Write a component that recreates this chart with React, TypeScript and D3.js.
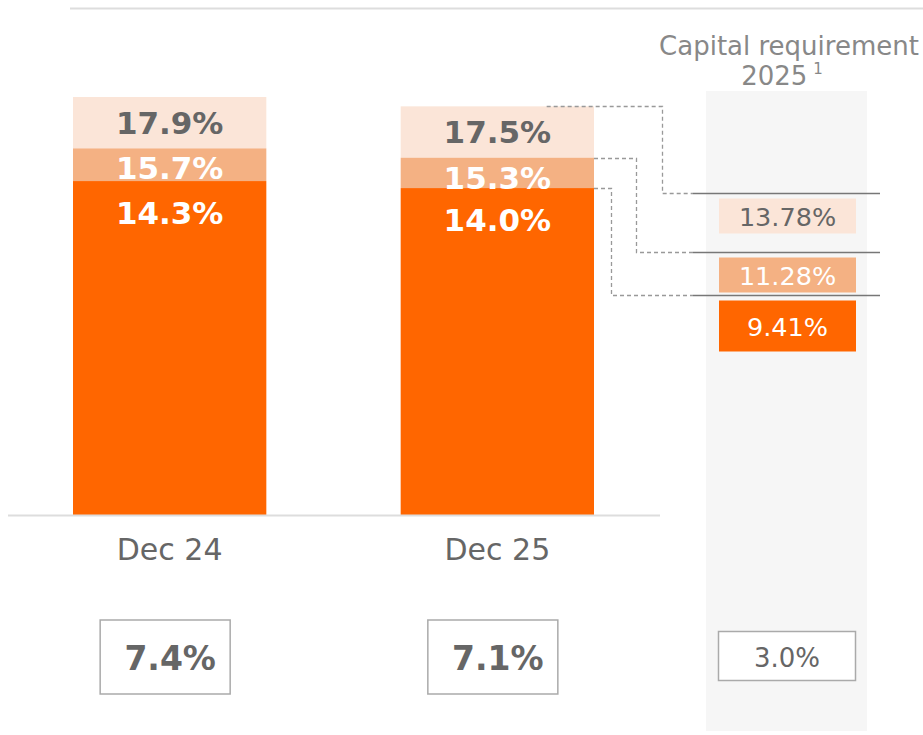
import * as d3 from 'd3';

const categories = ['Dec 24', 'Dec 25'];
const cet1 = [14.3, 14.0];
const tier1 = [15.7, 15.3];
const totalCapital = [17.9, 17.5];
const leverage = [7.4, 7.1];
const requirements = [13.78, 11.28, 9.41];
const leverageRequirement = 3.0;

const ORANGE = '#ff6600';
const MID = '#f4b183';
const LIGHT = '#fbe5d8';
const GREY = '#666666';
const FONT = '"DejaVu Sans", Verdana, sans-serif';

export default function App() {
  const width = 923;
  const height = 735;
  const base = 515;

  const x = d3.scaleBand<string>()
    .domain(categories)
    .range([73, 594])
    .paddingInner(0.41)
    .paddingOuter(0);

  const y = d3.scaleLinear().domain([0, 17.9]).range([base, 97]);

  const fmt1 = (v: number) => `${v.toFixed(1)}%`;
  const fmt2 = (v: number) => `${v.toFixed(2)}%`;

  const bw = x.bandwidth();

  // requirement panel
  const reqFills = [LIGHT, MID, ORANGE];
  const reqText = [GREY, '#ffffff', '#ffffff'];
  const reqBoxH = [35, 35, 51];
  const elbowX = [662, 636, 611];
  const dec25 = x('Dec 25') || 0;
  const startX = [dec25 + 146, dec25 + bw, dec25 + bw];
  const fromLevels = [totalCapital[1], tier1[1], cet1[1]];

  return (
    <svg
      width={width}
      height={height}
      style={{ position: 'absolute', left: 0, top: 0, background: '#fff' }}
      fontFamily={FONT}
    >
      <line x1={70} x2={923} y1={8.5} y2={8.5} stroke="#dddddd" strokeWidth={2} />

      {/* grey requirement panel */}
      <rect x={706} y={91} width={161} height={640} fill="#f6f6f6" />
      <text x={789} y={55} textAnchor="middle" fontSize={26} fill="#888888">
        Capital requirement
      </text>
      <text x={782} y={85} textAnchor="middle" fontSize={26} fill="#888888">
        2025
        <tspan fontSize={15} dx={6} dy={-11}>1</tspan>
      </text>

      {/* bars */}
      {categories.map((c, i) => {
        const bx = x(c) || 0;
        const cx = bx + bw / 2;
        return (
          <g key={c}>
            <rect x={bx} y={y(totalCapital[i])} width={bw} height={y(tier1[i]) - y(totalCapital[i])} fill={LIGHT} />
            <rect x={bx} y={y(tier1[i])} width={bw} height={y(cet1[i]) - y(tier1[i])} fill={MID} />
            <rect x={bx} y={y(cet1[i])} width={bw} height={base - y(cet1[i])} fill={ORANGE} />
            <text x={cx} y={y(totalCapital[i]) + 36.5} textAnchor="middle" fontSize={31} fontWeight="bold" fill={GREY}>
              {fmt1(totalCapital[i])}
            </text>
            <text x={cx} y={y(tier1[i]) + 31} textAnchor="middle" fontSize={31} fontWeight="bold" fill="#ffffff">
              {fmt1(tier1[i])}
            </text>
            <text x={cx} y={y(cet1[i]) + 43} textAnchor="middle" fontSize={31} fontWeight="bold" fill="#ffffff">
              {fmt1(cet1[i])}
            </text>
            <text x={cx} y={560} textAnchor="middle" fontSize={30} fill={GREY}>
              {c}
            </text>
            <rect x={cx - 69.5} y={620} width={130} height={74} fill="#ffffff" stroke="#aaaaaa" strokeWidth={1.5} />
            <text x={cx + 0.5} y={670} textAnchor="middle" fontSize={33} fontWeight="bold" fill={GREY}>
              {fmt1(leverage[i])}
            </text>
          </g>
        );
      })}

      <line x1={8} x2={660} y1={base + 0.5} y2={base + 0.5} stroke="#dddddd" strokeWidth={2} />

      {/* connectors and requirement boxes */}
      {requirements.map((r, i) => {
        const ly = Math.round(y(r)) + 0.5;
        const sy = Math.round(y(fromLevels[i])) + 0.5;
        return (
          <g key={r}>
            <path
              d={`M${startX[i]},${sy}H${elbowX[i] + 0.5}V${ly}H693`}
              fill="none"
              stroke="#999999"
              strokeWidth={1.3}
              strokeDasharray="4,3"
            />
            <line x1={693} x2={880} y1={ly} y2={ly} stroke="#777777" strokeWidth={1.3} />
            <rect x={719} y={ly + 5} width={137} height={reqBoxH[i]} fill={reqFills[i]} />
            <text x={787.5} y={ly + 5 + reqBoxH[i] / 2 + 10} textAnchor="middle" fontSize={25.5} fill={reqText[i]}>
              {fmt2(r)}
            </text>
          </g>
        );
      })}

      <rect x={718.5} y={631.5} width={137} height={49} fill="#ffffff" stroke="#aaaaaa" strokeWidth={1.5} />
      <text x={787} y={667} textAnchor="middle" fontSize={26} fill={GREY}>
        {fmt1(leverageRequirement)}
      </text>
    </svg>
  );
}
